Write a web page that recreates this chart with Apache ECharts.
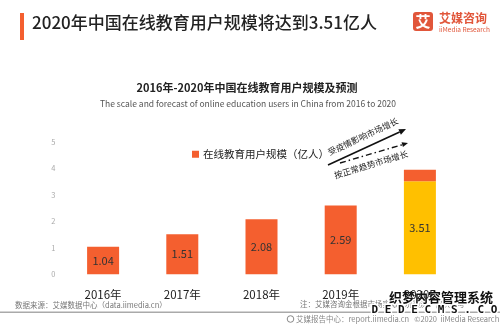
<!DOCTYPE html>
<html>
<head>
<meta charset="utf-8">
<script src="https://cdn.jsdelivr.net/npm/echarts@6/dist/echarts.min.js"></script>
<style>
  html, body { margin: 0; padding: 0; background: #fff; }
  #chart { width: 500px; height: 325px; }
</style>
</head>
<body>
<div id="chart"></div>
<script>
// Online education users in China, 2016-2020E (100 million people)
const categories = ['2016年', '2017年', '2018年', '2019年', '2020E'];
const userScale = [1.04, 1.51, 2.08, 2.59, 3.51];
// Extra growth on top of the 2020 forecast driven by the epidemic
const epidemicExtra = [null, null, null, null, 0.43];
const yTicks = [0, 1, 2, 3, 4, 5];

const ORANGE = '#F45F2F';
const YELLOW = '#FFC000';
const FONT = '"Noto Sans CJK SC", "Noto Sans", sans-serif';

// Line with a filled triangular head at (x2, y2)
function arrow(x1, y1, x2, y2, headLen, headHalf, lineStyle) {
  const dx = x2 - x1, dy = y2 - y1;
  const len = Math.sqrt(dx * dx + dy * dy);
  const ux = dx / len, uy = dy / len;
  const bx = x2 - ux * headLen, by = y2 - uy * headLen;
  const nx = -uy, ny = ux;
  return [
    { type: 'line', shape: { x1: x1, y1: y1, x2: bx, y2: by }, style: lineStyle },
    {
      type: 'polygon',
      shape: { points: [[x2, y2], [bx + nx * headHalf, by + ny * headHalf], [bx - nx * headHalf, by - ny * headHalf]] },
      style: { fill: '#111' }
    }
  ];
}

const chart = echarts.init(document.getElementById('chart'), null, { renderer: 'canvas' });

const option = {
  backgroundColor: '#fff',
  textStyle: { fontFamily: FONT },
  animation: false,
  title: [
    {
      text: '2016年-2020年中国在线教育用户规模及预测',
      left: 242, top: 77, textAlign: 'center',
      textStyle: { fontSize: 11, fontWeight: 'bold', color: '#222', fontFamily: FONT }
    },
    {
      text: 'The scale and forecast of online education users in China from 2016 to 2020',
      left: 243, top: 95, textAlign: 'center',
      textStyle: { fontSize: 8.5, fontWeight: 'normal', color: '#555', fontFamily: FONT }
    }
  ],
  legend: {
    data: ['在线教育用户规模（亿人）'],
    left: 187, top: 144,
    icon: 'rect', itemWidth: 7, itemHeight: 7, itemGap: 5,
    textStyle: { fontSize: 10.5, color: '#222', fontFamily: FONT, padding: [0, 0, 0, -1] }
  },
  grid: { left: 63.5, right: 40.5, top: 141.7, bottom: 50.7, containLabel: false },
  xAxis: {
    type: 'category',
    data: categories,
    axisLine: { show: false },
    axisTick: { show: false },
    axisLabel: { margin: 15, fontSize: 11.5, color: '#222', fontFamily: FONT }
  },
  yAxis: {
    type: 'value',
    min: yTicks[0], max: yTicks[yTicks.length - 1], interval: 1,
    axisLine: { show: false },
    axisTick: { show: false },
    splitLine: { show: false },
    axisLabel: { margin: 8, fontSize: 7.5, color: '#aaa', fontFamily: FONT }
  },
  series: [
    {
      name: '在线教育用户规模（亿人）',
      type: 'bar',
      stack: 'users',
      barWidth: 32,
      itemStyle: { color: ORANGE },
      data: userScale.map((v, i) => i === userScale.length - 1
        ? { value: v, itemStyle: { color: YELLOW } }
        : v),
      label: {
        show: true, position: 'inside',
        fontSize: 11, color: '#333', fontFamily: FONT,
        formatter: p => p.value.toFixed(2)
      }
    },
    {
      name: 'extra',
      type: 'bar',
      stack: 'users',
      barWidth: 32,
      itemStyle: { color: ORANGE },
      data: epidemicExtra
    }
  ],
  graphic: [
    // header accent bar and headline
    { type: 'rect', shape: { x: 20, y: 13, width: 4, height: 27 }, style: { fill: ORANGE } },
    {
      type: 'text', left: 32, top: 14,
      style: { text: '2020年中国在线教育用户规模将达到3.51亿人', font: '500 17px ' + FONT, fill: '#222' }
    },
    // logo
    { type: 'rect', shape: { x: 413, y: 12, width: 20, height: 19, r: 3 }, style: { fill: '#E1563A' } },
    {
      type: 'text', x: 423, y: 21.5,
      style: { text: '艾', font: 'bold 15px ' + FONT, fill: '#fff', align: 'center', verticalAlign: 'middle' }
    },
    {
      type: 'text', x: 439, y: 18,
      style: { text: '艾媒咨询', font: 'bold 12px ' + FONT, fill: '#E1563A', verticalAlign: 'middle' }
    },
    {
      type: 'text', x: 439, y: 30,
      style: { text: 'iiMedia Research', font: '6.5px ' + FONT, fill: '#E1563A', verticalAlign: 'middle' }
    },
    // growth arrows: epidemic-driven (solid) and normal trend (dash-dot)
    ...arrow(328, 165, 406, 129, 7, 3, { stroke: '#111', lineWidth: 1.6 }),
    ...arrow(340, 163, 408, 143, 6, 2.5, { stroke: '#111', lineWidth: 1.4, lineDash: [6, 3, 1.5, 3] }),
    {
      type: 'text', x: 363, y: 136.5, rotation: 25 * Math.PI / 180,
      style: { text: '受疫情影响市场增长', font: '8.5px ' + FONT, fill: '#222', align: 'center', verticalAlign: 'middle' }
    },
    {
      type: 'text', x: 371, y: 164.5, rotation: 17 * Math.PI / 180,
      style: { text: '按正常趋势市场增长', font: '8.5px ' + FONT, fill: '#222', align: 'center', verticalAlign: 'middle' }
    },
    // source notes
    {
      type: 'text', x: 15, y: 305,
      style: { text: '数据来源：艾媒数据中心（data.iimedia.cn）', font: '7.5px ' + FONT, fill: '#777', verticalAlign: 'middle' }
    },
    {
      type: 'text', x: 300, y: 304,
      style: { text: '注：艾媒咨询金根据市场实际情况预测，仅供参考', font: '7.5px ' + FONT, fill: '#777', verticalAlign: 'middle' }
    },
    // footer
    { type: 'rect', shape: { x: 0, y: 311.5, width: 500, height: 1.5 }, style: { fill: '#aaa' } },
    { type: 'circle', shape: { cx: 290.5, cy: 319, r: 3.3 }, style: { fill: 'none', stroke: '#888', lineWidth: 1 } },
    {
      type: 'text', x: 296, y: 319,
      style: { text: '艾媒报告中心：report.iimedia.cn   ©2020  iiMedia Research  Inc', font: '7.5px ' + FONT, fill: '#888', verticalAlign: 'middle' }
    },
    // site watermark
    {
      type: 'text', x: 441, y: 297,
      style: {
        text: '织梦内容管理系统', font: 'bold 13px ' + FONT, fill: '#111',
        stroke: '#fff', lineWidth: 3, align: 'center', verticalAlign: 'middle'
      }
    },
    {
      type: 'text', x: 441, y: 310,
      style: {
        text: 'D E D E C M S . C O M', font: 'bold 11px "DejaVu Sans Mono", monospace', fill: '#111',
        stroke: '#fff', lineWidth: 3, align: 'center', verticalAlign: 'middle'
      }
    }
  ]
};

chart.setOption(option);
</script>
</body>
</html>
